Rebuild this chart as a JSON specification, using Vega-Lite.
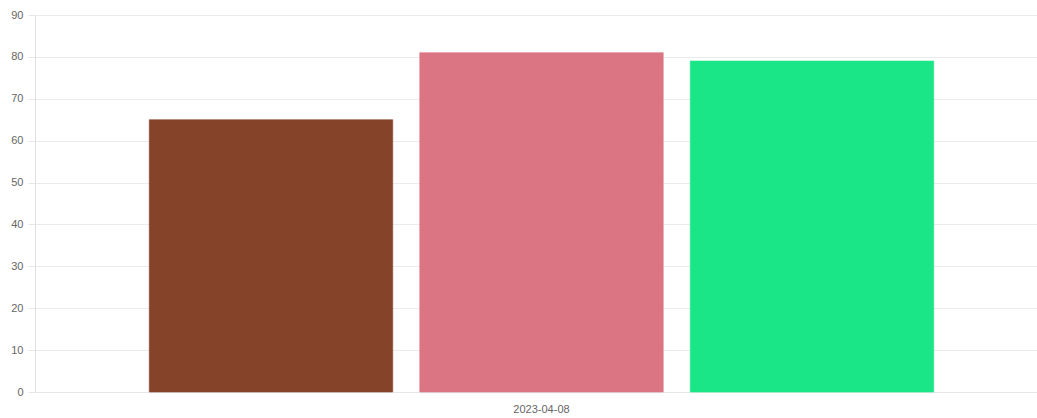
{
  "$schema": "https://vega.github.io/schema/vega-lite/v6.json",
  "autosize": {"type": "none"},
  "width": 1002,
  "height": 377,
  "padding": {"left": 35, "top": 15, "right": 0, "bottom": 26},
  "background": "white",
  "config": {
    "view": {"stroke": null},
    "font": "Liberation Sans"
  },
  "data": {
    "values": [
      {"date": "2023-04-08", "series": "A", "value": 65},
      {"date": "2023-04-08", "series": "B", "value": 81},
      {"date": "2023-04-08", "series": "C", "value": 79}
    ]
  },
  "mark": {"type": "bar", "strokeWidth": 1, "strokeOpacity": 0.6},
  "encoding": {
    "x": {
      "field": "date",
      "type": "nominal",
      "title": null,
      "scale": {"range": [0, 1013], "paddingInner": 0, "paddingOuter": 0},
      "axis": {
        "labelAngle": 0,
        "labelFontSize": 11,
        "labelColor": "#666666",
        "labelPadding": 11,
        "ticks": false,
        "domainColor": "#e6e6e6",
        "grid": false
      }
    },
    "xOffset": {
      "field": "series",
      "type": "nominal",
      "scale": {"paddingInner": 0.1, "paddingOuter": 0.4225}
    },
    "y": {
      "field": "value",
      "type": "quantitative",
      "title": null,
      "scale": {"domain": [0, 90], "nice": false},
      "axis": {
        "values": [0, 10, 20, 30, 40, 50, 60, 70, 80, 90],
        "labelFontSize": 11,
        "labelColor": "#666666",
        "labelPadding": 5,
        "tickSize": 7,
        "tickColor": "#e6e6e6",
        "domainColor": "#e0e0e0",
        "gridColor": "#ebebeb",
        "grid": true
      }
    },
    "color": {
      "field": "series",
      "type": "nominal",
      "legend": null,
      "scale": {"domain": ["A", "B", "C"], "range": ["#85432a", "#db7583", "#1be687"]}
    },
    "stroke": {
      "field": "series",
      "type": "nominal",
      "legend": null,
      "scale": {"domain": ["A", "B", "C"], "range": ["#85432a", "#db7583", "#1be687"]}
    }
  }
}
